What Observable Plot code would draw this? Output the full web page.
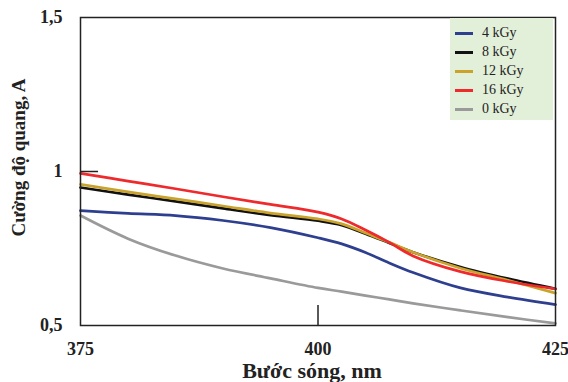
<!DOCTYPE html>
<html>
<head>
<meta charset="utf-8">
<script src="https://cdn.jsdelivr.net/npm/d3@7"></script>
<script src="https://cdn.jsdelivr.net/npm/@observablehq/plot@0.6"></script>
<style>
  html, body { margin: 0; padding: 0; background: #fff; }
  #wrap { position: relative; width: 568px; height: 382px; }
  #wrap svg text { font-family: "Liberation Serif", "Times New Roman", serif; }
  #legend { position: absolute; left: 450px; top: 18px; width: 103px; height: 102px; background: #e2efd9;
            font-family: "Liberation Serif", "Times New Roman", serif; font-size: 14px; color: #222; }
  .item { position: absolute; left: 0; height: 16px; line-height: 16px; }
  .sw { position: absolute; left: 5px; top: 7px; width: 18px; height: 3px; }
  .lab { position: absolute; left: 32px; top: 0; white-space: nowrap; }
</style>
</head>
<body>
<div id="wrap"><div id="legend"></div></div>
<script>
const wavelength = [375, 380, 385, 390, 395, 400, 402.5, 405, 407.5, 410, 415, 420, 425];
const series = ["4 kGy", "8 kGy", "12 kGy", "16 kGy", "0 kGy"];
const colors = ["#2e3f8f", "#111111", "#c9a32c", "#ee2a2d", "#9a9a9a"];
const v4 = [0.873, 0.864, 0.857, 0.841, 0.818, 0.785, 0.765, 0.737, 0.703, 0.672, 0.622, 0.592, 0.568];
const v8 = [0.948, 0.925, 0.903, 0.880, 0.858, 0.840, 0.826, 0.798, 0.768, 0.738, 0.690, 0.652, 0.619];
const v12 = [0.958, 0.934, 0.911, 0.888, 0.865, 0.846, 0.830, 0.800, 0.770, 0.738, 0.686, 0.647, 0.605];
const v16 = [0.994, 0.969, 0.944, 0.918, 0.893, 0.868, 0.846, 0.810, 0.770, 0.726, 0.675, 0.643, 0.619];
const v0 = [0.857, 0.782, 0.727, 0.685, 0.653, 0.622, 0.610, 0.597, 0.585, 0.572, 0.549, 0.527, 0.507];
const yTicks = [0.5, 1, 1.5];
const xTicks = [375, 400, 425];
const xTitle = "Bước sóng, nm";
const yTitle = "Cường độ quang, A";

const valuesBySeries = {"4 kGy": v4, "8 kGy": v8, "12 kGy": v12, "16 kGy": v16, "0 kGy": v0};
const drawOrder = ["0 kGy", "4 kGy", "8 kGy", "12 kGy", "16 kGy"];
const rows = [];
for (const s of drawOrder) valuesBySeries[s].forEach((v, i) => rows.push({s, x: wavelength[i], y: v}));

const chart = Plot.plot({
  width: 568, height: 382,
  marginLeft: 80, marginRight: 13, marginTop: 17, marginBottom: 57,
  style: {fontFamily: "'Liberation Serif', serif", fontWeight: "bold", fontSize: "18px", color: "#222", background: "#fff"},
  x: {domain: [375, 425]},
  y: {domain: [0.5, 1.5]},
  color: {domain: series, range: colors},
  marks: [
    Plot.line(rows, {x: "x", y: "y", z: "s", stroke: "s", strokeWidth: 2.7, curve: "catmull-rom"}),
    Plot.frame({stroke: "#222", strokeWidth: 1.5}),
    Plot.ruleY([1], {x1: 375, x2: 376.9, stroke: "#222", strokeWidth: 1.5}),
    Plot.ruleX([400], {y1: 0.5, y2: 0.565, stroke: "#222", strokeWidth: 1.5}),
    Plot.axisY({ticks: yTicks, tickSize: 0, tickPadding: 18, tickFormat: d => String(d).replace(".", ","),
      label: null, fontSize: 18, fontWeight: "bold"}),
    Plot.axisX({ticks: xTicks, tickSize: 0, tickPadding: 17, tickFormat: d => String(d),
      label: null, fontSize: 18, fontWeight: "bold"}),
    Plot.text([xTitle], {text: d => d, frameAnchor: "bottom", dx: -6, dy: 45, lineAnchor: "middle", textAnchor: "middle",
      fontSize: 22, fontWeight: "bold", fill: "#222"}),
    Plot.text([yTitle], {text: d => d, frameAnchor: "left", dx: -62, dy: -14, rotate: -90, lineAnchor: "middle",
      textAnchor: "middle", fontSize: 19, fontWeight: "bold", fill: "#222"})
  ]
});
document.getElementById("wrap").prepend(chart);

const legend = document.getElementById("legend");
series.forEach((s, i) => {
  const item = document.createElement("div");
  item.className = "item";
  item.style.top = (7 + i * 19) + "px";
  item.style.width = "100px";
  item.innerHTML = `<span class="sw" style="background:${colors[i]}"></span><span class="lab">${s}</span>`;
  legend.appendChild(item);
});
</script>
</body>
</html>
